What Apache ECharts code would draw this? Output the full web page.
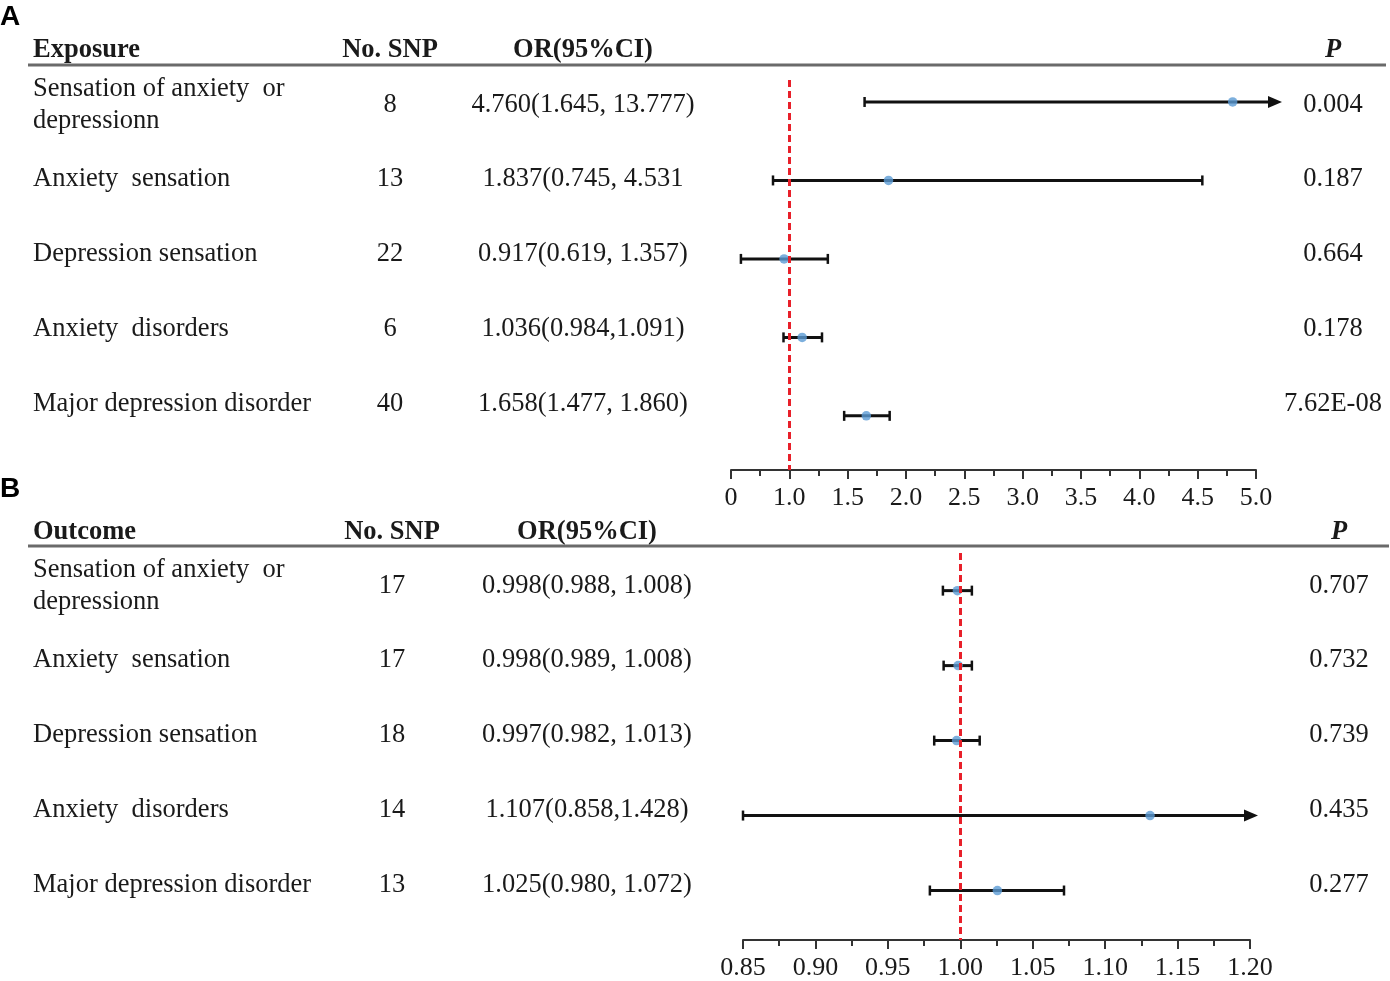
<!DOCTYPE html>
<html>
<head>
<meta charset="utf-8">
<script src="https://cdn.jsdelivr.net/npm/echarts@6/dist/echarts.min.js"></script>
<style>
  html, body { margin: 0; padding: 0; background: #fff; }
  #chart { width: 1390px; height: 981px; }
</style>
</head>
<body>
<div id="chart"></div>
<script>
// ---- data ----
const traits = ['Sensation of anxiety  or\ndepressionn', 'Anxiety  sensation', 'Depression sensation', 'Anxiety  disorders', 'Major depression disorder'];

// panel A (exposure)
const snpA = ['8', '13', '22', '6', '40'];
const orTextA = ['4.760(1.645, 13.777)', '1.837(0.745, 4.531', '0.917(0.619, 1.357)', '1.036(0.984,1.091)', '1.658(1.477, 1.860)'];
const pA = ['0.004', '0.187', '0.664', '0.178', '7.62E-08'];
// positions of the marks as drawn in the figure
const estA = [4.80, 1.85, 0.91, 1.11, 1.66];
const loA = [1.645, 0.72, 0.17, 0.90, 1.47];
const hiA = [13.777, 4.54, 1.33, 1.28, 1.86];

// panel B (outcome)
const snpB = ['17', '17', '18', '14', '13'];
const orTextB = ['0.998(0.988, 1.008)', '0.998(0.989, 1.008)', '0.997(0.982, 1.013)', '1.107(0.858,1.428)', '1.025(0.980, 1.072)'];
const pB = ['0.707', '0.732', '0.739', '0.435', '0.277'];
const estB = [0.998, 0.9985, 0.9975, 1.131, 1.0256];
const loB = [0.988, 0.9885, 0.982, 0.85, 0.979];
const hiB = [1.008, 1.008, 1.0134, 1.428, 1.0716];

// top axis has a broken segment: 0..1 is squeezed into one half-step
function uA(v) { return v < 1 ? 0.5 + v * 0.5 : v; }

const SERIF = '"Liberation Serif", "Times New Roman", serif';
const TXT = '#1a1a1a';
const FS = '26.5px ';

const panels = [
  { min: 0.5, max: 5.0, arrowExtra: 26 },
  { min: 0.85, max: 1.2, arrowExtra: 8 }
];

function barRender(panel) {
  return function (params, api) {
    const lo = api.value(0), hi = api.value(1), row = api.value(2);
    const y = api.coord([panel.min, row])[1];
    const x0 = api.coord([Math.max(lo, panel.min), row])[0];
    const over = hi > panel.max;
    const xEnd = over ? api.coord([panel.max, row])[0] + panel.arrowExtra : api.coord([hi, row])[0];
    const kids = [
      { type: 'line', shape: { x1: x0, y1: y, x2: over ? xEnd - 10 : xEnd, y2: y }, style: { stroke: '#111', lineWidth: 3 } },
      { type: 'line', shape: { x1: x0, y1: y - 5, x2: x0, y2: y + 5 }, style: { stroke: '#111', lineWidth: 2.5 } }
    ];
    if (over) {
      kids.push({ type: 'polygon', shape: { points: [[xEnd - 14, y - 6], [xEnd, y], [xEnd - 14, y + 6]] }, style: { fill: '#111' } });
    } else {
      kids.push({ type: 'line', shape: { x1: xEnd, y1: y - 5, x2: xEnd, y2: y + 5 }, style: { stroke: '#111', lineWidth: 2.5 } });
    }
    return { type: 'group', children: kids };
  };
}

function txt(text, x, y, opts) {
  return {
    type: 'text', x: x, y: y, silent: true,
    style: Object.assign({
      text: text, font: FS + SERIF, fill: TXT,
      align: 'left', verticalAlign: 'middle', lineHeight: 32
    }, opts || {})
  };
}

const graphics = [];
// panel letters
graphics.push(txt('A', 0, 17, { font: 'bold 28px "Liberation Sans", Arial, sans-serif', fill: '#000' }));
graphics.push(txt('B', 0, 489, { font: 'bold 28px "Liberation Sans", Arial, sans-serif', fill: '#000' }));

function table(cfg) {
  graphics.push(txt(cfg.head, 33, cfg.headY, { font: 'bold ' + FS + SERIF }));
  graphics.push(txt('No. SNP', cfg.snpX, cfg.headY, { font: 'bold ' + FS + SERIF, align: 'center' }));
  graphics.push(txt('OR(95%CI)', cfg.orX, cfg.headY, { font: 'bold ' + FS + SERIF, align: 'center' }));
  graphics.push(txt('P', cfg.pX, cfg.headY, { font: 'italic bold ' + FS + SERIF, align: 'center' }));
  graphics.push({
    type: 'line', silent: true,
    shape: { x1: 28, y1: cfg.lineY, x2: cfg.lineX2, y2: cfg.lineY },
    style: { stroke: '#6a6a6a', lineWidth: 3 }
  });
  traits.forEach(function (t, i) {
    const y = cfg.rowY[i];
    graphics.push(txt(t, 33, y));
    graphics.push(txt(cfg.snp[i], cfg.snpX, y, { align: 'center' }));
    graphics.push(txt(cfg.or[i], cfg.orX, y, { align: 'center' }));
    graphics.push(txt(cfg.p[i], cfg.pX, y, { align: 'center' }));
  });
}

table({ head: 'Exposure', headY: 50, lineY: 65, lineX2: 1386, snpX: 390, orX: 583, pX: 1333,
        rowY: [105, 179, 254, 329, 404], snp: snpA, or: orTextA, p: pA });
table({ head: 'Outcome', headY: 532, lineY: 546, lineX2: 1389, snpX: 392, orX: 587, pX: 1339,
        rowY: [586, 660, 735, 810, 885], snp: snpB, or: orTextB, p: pB });

const redLine = {
  silent: true, symbol: ['none', 'none'],
  label: { show: false },
  lineStyle: { color: '#e8202a', type: [7, 4], width: 3 },
  data: [{ xAxis: 1 }]
};

function xAxisCfg(idx, min, max, interval, fmt) {
  return {
    gridIndex: idx, type: 'value', min: min, max: max, interval: interval,
    splitLine: { show: false },
    axisLine: { show: true, onZero: false, lineStyle: { color: '#333', width: 2 } },
    axisTick: { show: true, length: 9, lineStyle: { color: '#333', width: 2 } },
    minorTick: { show: true, splitNumber: 2, length: 6, lineStyle: { color: '#333', width: 2 } },
    axisLabel: { color: TXT, fontFamily: SERIF, fontSize: 26, margin: 15, formatter: fmt }
  };
}

const option = {
  animation: false,
  backgroundColor: '#fff',
  graphic: graphics,
  grid: [
    { left: 731, width: 525, top: 80, height: 390 },
    { left: 743, width: 507, top: 553, height: 391 }
  ],
  xAxis: [
    xAxisCfg(0, 0.5, 5.0, 0.5, function (v) { return Math.abs(v - 0.5) < 1e-6 ? '0' : v.toFixed(1); }),
    xAxisCfg(1, 0.85, 1.2, 0.05, function (v) { return v.toFixed(2); })
  ],
  yAxis: [
    { gridIndex: 0, type: 'value', inverse: true, min: -0.28, max: 4.69, show: false },
    { gridIndex: 1, type: 'value', inverse: true, min: -0.502, max: 4.66, show: false }
  ],
  series: [
    {
      type: 'custom', xAxisIndex: 0, yAxisIndex: 0, clip: false, z: 3,
      renderItem: barRender(panels[0]),
      data: loA.map(function (v, i) { return [uA(v), uA(hiA[i]), i]; })
    },
    {
      type: 'scatter', xAxisIndex: 0, yAxisIndex: 0, z: 4,
      symbolSize: 9.5, itemStyle: { color: '#5b9bd5' },
      data: estA.map(function (v, i) { return [uA(v), i]; }),
      markLine: redLine
    },
    {
      type: 'custom', xAxisIndex: 1, yAxisIndex: 1, clip: false, z: 3,
      renderItem: barRender(panels[1]),
      data: loB.map(function (v, i) { return [v, hiB[i], i]; })
    },
    {
      type: 'scatter', xAxisIndex: 1, yAxisIndex: 1, z: 4,
      symbolSize: 9.5, itemStyle: { color: '#5b9bd5' },
      data: estB.map(function (v, i) { return [v, i]; }),
      markLine: redLine
    }
  ]
};

const chart = echarts.init(document.getElementById('chart'));
chart.setOption(option);
</script>
</body>
</html>
